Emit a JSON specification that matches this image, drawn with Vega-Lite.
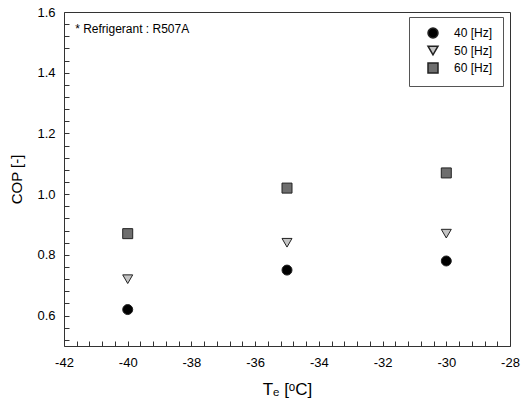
{
  "$schema": "https://vega.github.io/schema/vega-lite/v6.json",
  "width": 446,
  "height": 334,
  "autosize": {"type": "none"},
  "padding": {"left": 64, "top": 12, "right": 11, "bottom": 64},
  "background": "white",
  "config": {
    "font": "Liberation Sans",
    "view": {"stroke": "#333", "strokeWidth": 1},
    "axis": {"domain": false, "tickColor": "#333", "grid": false, "labelColor": "#000", "titleColor": "#000", "labelFont": "Liberation Sans", "titleFont": "Liberation Sans", "titleFontWeight": "normal"},
    "legend": {"labelColor": "#000"}
  },
  "data": {
    "values": [
      {"Te": -40, "COP": 0.62, "freq": "40 [Hz]"},
      {"Te": -35, "COP": 0.75, "freq": "40 [Hz]"},
      {"Te": -30, "COP": 0.78, "freq": "40 [Hz]"},
      {"Te": -40, "COP": 0.72, "freq": "50 [Hz]"},
      {"Te": -35, "COP": 0.84, "freq": "50 [Hz]"},
      {"Te": -30, "COP": 0.87, "freq": "50 [Hz]"},
      {"Te": -40, "COP": 0.87, "freq": "60 [Hz]"},
      {"Te": -35, "COP": 1.02, "freq": "60 [Hz]"},
      {"Te": -30, "COP": 1.07, "freq": "60 [Hz]"}
    ]
  },
  "layer": [
    {
      "mark": {"type": "point", "filled": true, "stroke": "#222", "strokeWidth": 1, "size": 100, "opacity": 1},
      "encoding": {
        "x": {
          "field": "Te", "type": "quantitative",
          "scale": {"domain": [-42, -28], "nice": false, "zero": false},
          "axis": {
            "title": "Tₑ [ᵒC]",
            "titleFontSize": 17,
            "titlePadding": 12,
            "values": [-42,-41.6,-41.2,-40.8,-40.4,-40,-39.6,-39.2,-38.8,-38.4,-38,-37.6,-37.2,-36.8,-36.4,-36,-35.6,-35.2,-34.8,-34.4,-34,-33.6,-33.2,-32.8,-32.4,-32,-31.6,-31.2,-30.8,-30.4,-30,-29.6,-29.2,-28.8,-28.4,-28],
            "labelExpr": "abs(round(datum.value*10)) % 20 == 0 ? toString(round(datum.value)) : ''",
            "offset": -5,
            "tickSize": 5,
            "labelPadding": 10,
            "labelFontSize": 13,
            "labelFlush": false,
            "labelOverlap": false
          }
        },
        "y": {
          "field": "COP", "type": "quantitative",
          "scale": {"domain": [0.5, 1.6], "nice": false, "zero": false},
          "axis": {
            "title": "COP [-]",
            "titleFontSize": 15,
            "titlePadding": 12,
            "values": [0.52,0.56,0.6,0.64,0.68,0.72,0.76,0.8,0.84,0.88,0.92,0.96,1.0,1.04,1.08,1.12,1.16,1.2,1.24,1.28,1.32,1.36,1.4,1.44,1.48,1.52,1.56,1.6],
            "labelExpr": "abs(round(datum.value*100)) % 20 == 0 ? format(datum.value, '.1f') : ''",
            "offset": -5,
            "tickSize": 5,
            "labelPadding": 9,
            "labelFontSize": 13,
            "labelFlush": false,
            "labelOverlap": false
          }
        },
        "shape": {
          "field": "freq", "type": "nominal",
          "scale": {"domain": ["40 [Hz]", "50 [Hz]", "60 [Hz]"], "range": ["circle", "triangle-down", "square"]},
          "legend": {
            "title": null,
            "orient": "none",
            "legendX": 345,
            "legendY": 5,
            "strokeColor": "#555",
            "fillColor": "white",
            "padding": 10,
            "labelFontSize": 12,
            "labelFont": "Liberation Sans",
            "symbolSize": 100,
            "symbolOffset": 8,
            "rowPadding": 1.5,
            "labelOffset": 15,
            "encode": {"symbols": {"update": {"stroke": {"value": "#222"}, "strokeWidth": {"value": 1}}}}
          }
        },
        "fill": {
          "field": "freq", "type": "nominal",
          "scale": {"domain": ["40 [Hz]", "50 [Hz]", "60 [Hz]"], "range": ["#000000", "#c4c4c4", "#6e6e6e"]},
          "legend": {
            "title": null,
            "orient": "none",
            "legendX": 345,
            "legendY": 5,
            "strokeColor": "#555",
            "fillColor": "white",
            "padding": 10,
            "labelFontSize": 12,
            "labelFont": "Liberation Sans",
            "symbolSize": 100,
            "symbolOffset": 8,
            "rowPadding": 1.5,
            "labelOffset": 15,
            "encode": {"symbols": {"update": {"stroke": {"value": "#222"}, "strokeWidth": {"value": 1}}}}
          }
        }
      }
    },
    {
      "data": {"values": [{"note": "* Refrigerant : R507A"}]},
      "mark": {"type": "text", "align": "left", "baseline": "middle", "fontSize": 12, "font": "Liberation Sans", "fill": "#000"},
      "encoding": {
        "x": {
          "datum": -41.65, "type": "quantitative",
          "axis": {
            "title": "Tₑ [ᵒC]",
            "titleFontSize": 17,
            "titlePadding": 12,
            "values": [-42,-41.6,-41.2,-40.8,-40.4,-40,-39.6,-39.2,-38.8,-38.4,-38,-37.6,-37.2,-36.8,-36.4,-36,-35.6,-35.2,-34.8,-34.4,-34,-33.6,-33.2,-32.8,-32.4,-32,-31.6,-31.2,-30.8,-30.4,-30,-29.6,-29.2,-28.8,-28.4,-28],
            "labelExpr": "abs(round(datum.value*10)) % 20 == 0 ? toString(round(datum.value)) : ''",
            "offset": -5,
            "tickSize": 5,
            "labelPadding": 10,
            "labelFontSize": 13,
            "labelFlush": false,
            "labelOverlap": false
          }
        },
        "y": {
          "datum": 1.545, "type": "quantitative",
          "axis": {
            "title": "COP [-]",
            "titleFontSize": 15,
            "titlePadding": 12,
            "values": [0.52,0.56,0.6,0.64,0.68,0.72,0.76,0.8,0.84,0.88,0.92,0.96,1.0,1.04,1.08,1.12,1.16,1.2,1.24,1.28,1.32,1.36,1.4,1.44,1.48,1.52,1.56,1.6],
            "labelExpr": "abs(round(datum.value*100)) % 20 == 0 ? format(datum.value, '.1f') : ''",
            "offset": -5,
            "tickSize": 5,
            "labelPadding": 9,
            "labelFontSize": 13,
            "labelFlush": false,
            "labelOverlap": false
          }
        },
        "text": {"field": "note", "type": "nominal"}
      }
    }
  ]
}
